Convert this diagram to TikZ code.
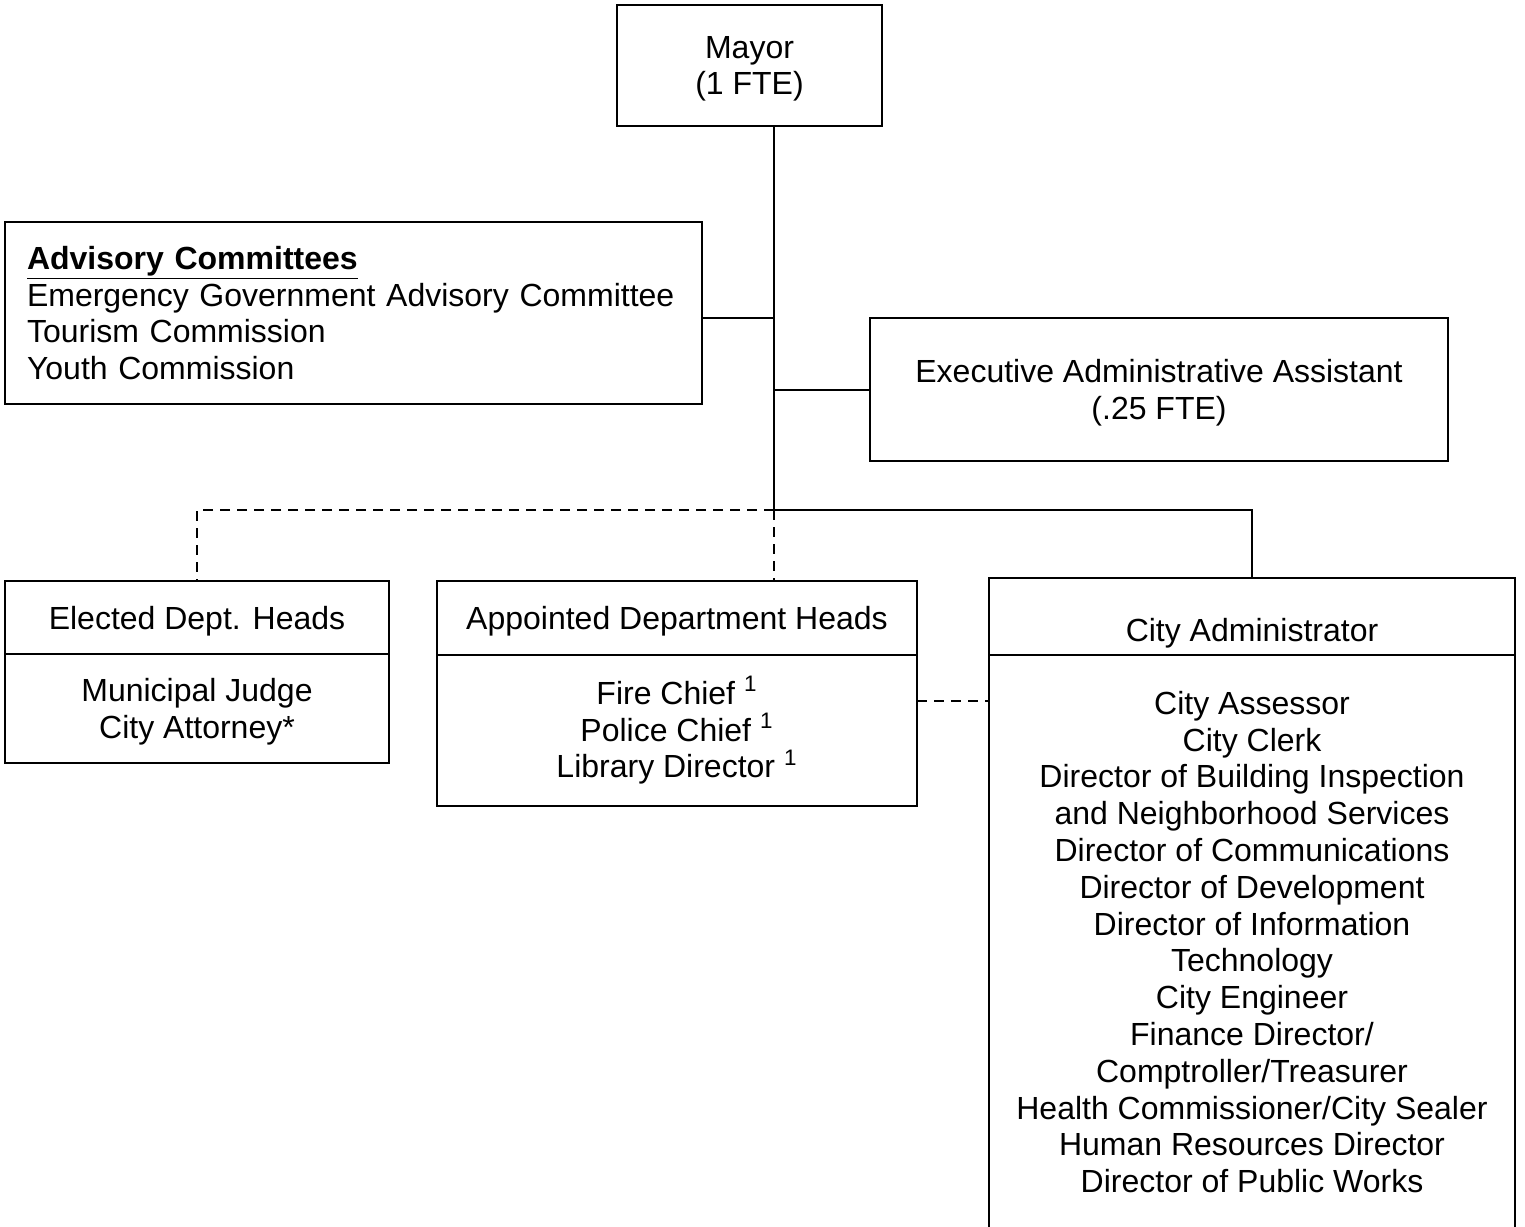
\documentclass[tikz,border=0pt]{standalone}
\usepackage{fontspec}
\setmainfont{Liberation Sans}
\usetikzlibrary{positioning}

\begin{document}
\begin{tikzpicture}[x=1pt,y=-1pt,line width=1pt,
  org box/.style={draw,rectangle,outer sep=0pt,inner sep=2pt,align=center,
    font=\fontsize{16}{18.4}\selectfont},
  low text/.style={text depth=0pt},
  solid link/.style={line width=1pt},
  dashed link/.style={line width=1pt,dash pattern=on 5pt off 3.5pt}]

  \useasboundingbox (0,0) rectangle (762.5,613);

  \node[org box,low text,minimum width=132.5pt,minimum height=60.5pt] (mayor) at (374.75,32.75) {Mayor\\(1 FTE)};
  \node[org box,text width=326.5pt,inner xsep=11pt,minimum height=91pt,align=left] (advisory) at (176.75,156.5)
    {\underline{\textbf{Advisory Committees}}\\Emergency Government Advisory Committee\\Tourism Commission\\Youth Commission};
  \node[org box,low text,minimum width=289pt,minimum height=71.5pt] (exec) at (579.5,194.75) {Executive Administrative Assistant\\(.25 FTE)};

  \node[org box,low text,minimum width=192pt,minimum height=36.5pt] (elected head) at (98.5,308.75) {Elected Dept. Heads};
  \node[org box,low text,minimum width=192pt,minimum height=54.5pt,below=0pt of elected head] (elected body) {Municipal Judge\\City Attorney*};

  \node[org box,low text,minimum width=240pt,minimum height=37pt] (appointed head) at (338.5,309) {Appointed Department Heads};
  \node[org box,minimum width=240pt,minimum height=75.5pt,below=0pt of appointed head] (appointed body)
    {Fire Chief \textsuperscript{1}\\Police Chief \textsuperscript{1}\\Library Director \textsuperscript{1}};

  \node[org box,low text,text height=25pt,minimum width=263pt,minimum height=38.5pt] (admin head) at (626,308.25) {City Administrator};
  \node[org box,minimum width=263pt,inner ysep=18pt,text depth=30pt,below=0pt of admin head] (admin body)
    {City Assessor\\City Clerk\\Director of Building Inspection\\and Neighborhood Services\\Director of Communications\\
     Director of Development\\Director of Information\\Technology\\City Engineer\\Finance Director/\\
     Comptroller/Treasurer\\Health Commissioner/City Sealer\\Human Resources Director\\Director of Public Works};

  \coordinate (spine) at (387,255);
  \coordinate (side) at (0,350.5);

  \draw[solid link] (mayor.south -| spine) -- (spine);
  \draw[solid link] ([yshift=-2.5pt]advisory.east) -- ([yshift=-2.5pt]advisory.east -| spine);
  \draw[solid link] (exec.west) -- (exec.west -| spine);
  \draw[solid link] (spine) -| (admin head.north);
  \draw[dashed link] (spine) -| (elected head.north);
  \draw[dashed link] (spine) -- (appointed head.north -| spine);
  \draw[dashed link] (appointed body.east |- side) -- (admin body.west |- side);
\end{tikzpicture}
\end{document}
